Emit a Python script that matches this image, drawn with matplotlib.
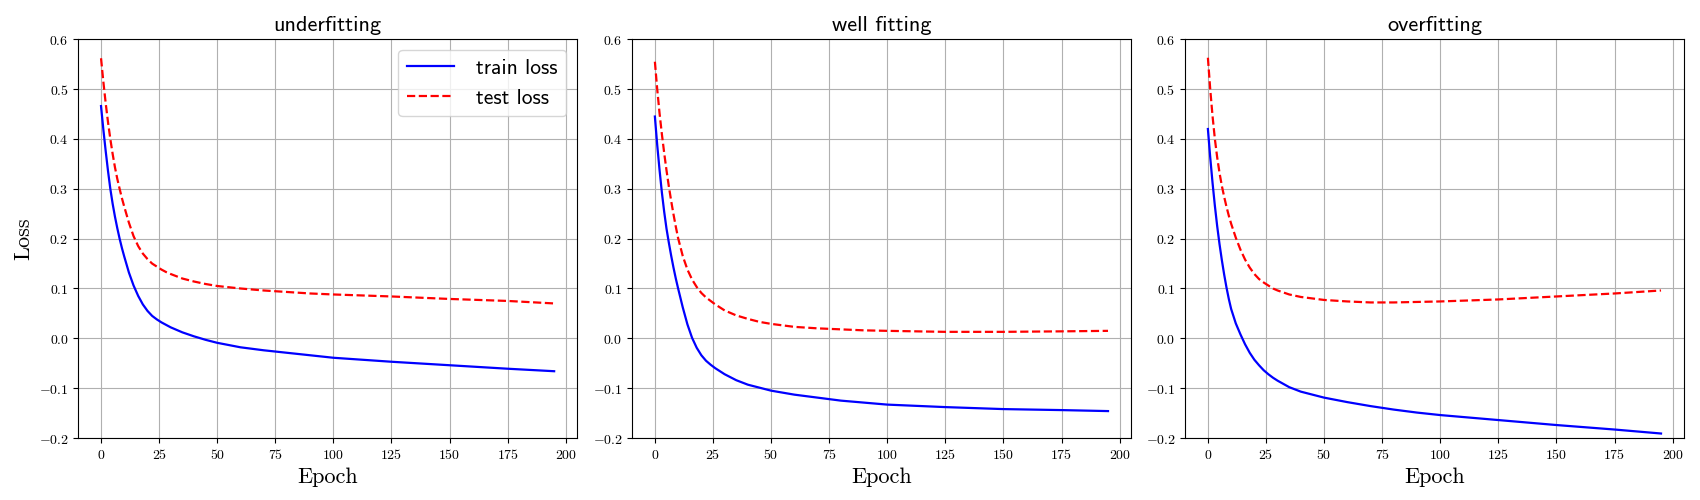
import matplotlib
matplotlib.use("Agg")
import matplotlib.pyplot as plt
from matplotlib.ticker import FuncFormatter
import numpy as np

plt.rcParams["mathtext.fontset"] = "cm"

TITLES = ["underfitting", "well fitting", "overfitting"]

epochs = [0, 1, 2, 3, 4, 5, 6, 7, 8, 9, 10, 12, 14, 16, 18, 20, 22, 24, 26, 28, 30,
          35, 40, 45, 50, 60, 70, 80, 90, 100, 125, 150, 175, 195]

under_train = [0.466, 0.419, 0.376, 0.336, 0.300, 0.270, 0.244, 0.221, 0.200, 0.181, 0.164,
               0.132, 0.106, 0.085, 0.068, 0.055, 0.045, 0.038, 0.032, 0.027, 0.022,
               0.012, 0.004, -0.003, -0.009, -0.018, -0.024, -0.029, -0.034, -0.039,
               -0.047, -0.054, -0.061, -0.066]
under_test = [0.562, 0.515, 0.472, 0.434, 0.400, 0.370, 0.343, 0.320, 0.300, 0.281, 0.264,
              0.232, 0.205, 0.185, 0.170, 0.159, 0.150, 0.144, 0.138, 0.133, 0.129,
              0.120, 0.114, 0.109, 0.105, 0.100, 0.096, 0.093, 0.090, 0.088,
              0.084, 0.079, 0.075, 0.070]

well_train = [0.445, 0.388, 0.338, 0.293, 0.254, 0.220, 0.192, 0.166, 0.142, 0.120, 0.100,
              0.062, 0.028, 0.001, -0.019, -0.034, -0.045, -0.053, -0.060, -0.066, -0.072,
              -0.084, -0.093, -0.099, -0.105, -0.113, -0.119, -0.125, -0.129, -0.133,
              -0.138, -0.142, -0.144, -0.146]
well_test = [0.555, 0.500, 0.452, 0.410, 0.372, 0.337, 0.305, 0.276, 0.249, 0.224, 0.201,
             0.165, 0.138, 0.118, 0.103, 0.091, 0.082, 0.075, 0.068, 0.062, 0.056,
             0.046, 0.039, 0.033, 0.029, 0.023, 0.020, 0.018, 0.016, 0.015,
             0.013, 0.013, 0.014, 0.015]

over_train = [0.420, 0.363, 0.312, 0.266, 0.225, 0.189, 0.157, 0.128, 0.102, 0.079, 0.059,
              0.030, 0.008, -0.012, -0.029, -0.043, -0.054, -0.064, -0.072, -0.079, -0.085,
              -0.098, -0.107, -0.113, -0.119, -0.128, -0.136, -0.143, -0.149, -0.154,
              -0.164, -0.174, -0.183, -0.191]
over_test = [0.563, 0.500, 0.446, 0.400, 0.363, 0.332, 0.306, 0.284, 0.264, 0.246, 0.230,
             0.202, 0.178, 0.158, 0.142, 0.129, 0.119, 0.112, 0.106, 0.100, 0.096,
             0.088, 0.083, 0.080, 0.077, 0.074, 0.072, 0.072, 0.073, 0.074,
             0.078, 0.084, 0.090, 0.096]

train_series = [under_train, well_train, over_train]
test_series = [under_test, well_test, over_test]

fig = plt.figure(figsize=(17, 5), dpi=100)
lefts = [0.0461, 0.3719, 0.6972]
axes = [fig.add_axes([l, 0.124, 0.2932, 0.7974]) for l in lefts]

yfmt = FuncFormatter(lambda v, pos: f"${v:.1f}$")
xfmt = FuncFormatter(lambda v, pos: f"${v:.0f}$")

for i, ax in enumerate(axes):
    ax.plot(epochs, train_series[i], color="blue", linewidth=1.6, label="train loss")
    ax.plot(epochs, test_series[i], "r--", linewidth=1.6, label="test loss")
    ax.set_ylim(-0.2, 0.6)
    ax.set_yticks(np.arange(-0.2, 0.61, 0.1))
    ax.set_xticks(np.arange(0, 201, 25))
    ax.yaxis.set_major_formatter(yfmt)
    ax.xaxis.set_major_formatter(xfmt)
    ax.tick_params(labelsize=10)
    ax.grid(True, color="#b0b0b0", linewidth=0.8)
    ax.set_title(TITLES[i], family="cmss10", fontsize=16)
    ax.set_xlabel("Epoch", family="cmr10", fontsize=16)
    if i == 0:
        ax.set_ylabel("Loss", family="cmr10", fontsize=16)
        ax.legend(loc="upper right", prop={"family": "cmss10", "size": 15.5},
                  handlelength=2.2, handletextpad=1.0)

fig.savefig("out.png", dpi=100)
